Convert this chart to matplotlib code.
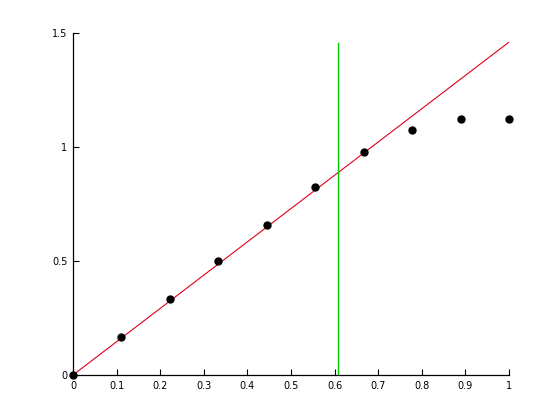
import matplotlib
matplotlib.use("Agg")
import matplotlib.pyplot as plt

# sample points
x_pts = [0, 1/9, 2/9, 3/9, 4/9, 5/9, 6/9, 7/9, 8/9, 1.0]
y_pts = [0, 0.167, 0.333, 0.5, 0.658, 0.824, 0.978, 1.074, 1.123, 1.123]

# fitted line and marker line
fit_x = [0, 1.0]
fit_y = [0, 1.46]
vline_x = 0.608
vline_top = 1.456

x_ticks = [0, 0.1, 0.2, 0.3, 0.4, 0.5, 0.6, 0.7, 0.8, 0.9, 1]
x_labels = ["0", "0.1", "0.2", "0.3", "0.4", "0.5", "0.6", "0.7", "0.8", "0.9", "1"]
y_ticks = [0, 0.5, 1, 1.5]
y_labels = ["0", "0.5", "1", "1.5"]

fig = plt.figure(figsize=(5.6, 4.2), dpi=100)
ax = fig.add_axes([73 / 560, 45 / 420, 436 / 560, 342 / 420])

ax.plot(fit_x, fit_y, color="#e0001a", lw=0.8)
ax.plot([vline_x, vline_x], [0, vline_top], color="#00cc00", lw=1.0)
ax.plot(x_pts, y_pts, "o", color="black", ms=5, clip_on=False, zorder=5)

ax.set_xlim(0, 1)
ax.set_ylim(0, 1.5)
ax.set_xticks(x_ticks)
ax.set_xticklabels(x_labels)
ax.set_yticks(y_ticks)
ax.set_yticklabels(y_labels)
ax.tick_params(direction="in", length=4, width=0.8, labelsize=7, pad=4)

ax.spines["top"].set_visible(False)
ax.spines["right"].set_visible(False)
ax.spines["left"].set_linewidth(0.9)
ax.spines["bottom"].set_linewidth(0.9)

fig.savefig("out.png", dpi=100)
